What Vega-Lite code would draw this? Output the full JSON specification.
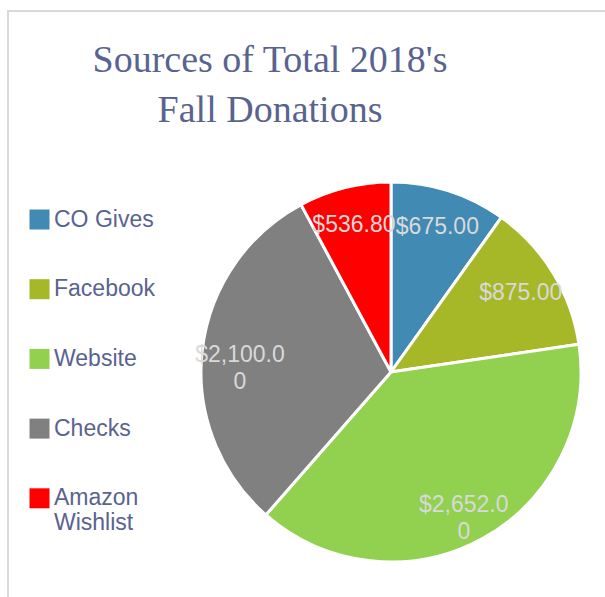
{
  "$schema": "https://vega.github.io/schema/vega-lite/v6.json",
  "autosize": {"type": "none"},
  "width": 766,
  "height": 722,
  "padding": {"left": 8, "top": 11, "right": -169, "bottom": -136},
  "background": "white",
  "title": {
    "text": ["Sources of Total 2018's", "Fall Donations"],
    "orient": "none",
    "font": "Liberation Serif",
    "fontSize": 38,
    "fontWeight": "normal",
    "color": "#59638f",
    "lineHeight": 50,
    "baseline": "alphabetic",
    "anchor": "middle",
    "align": "center",
    "frame": "group",
    "offset": 0,
    "dx": 262,
    "dy": 61
  },
  "data": {
    "values": [
      {"source": "CO Gives", "amount": 675.00, "rank": 1},
      {"source": "Facebook", "amount": 875.00, "rank": 2},
      {"source": "Website", "amount": 2652.00, "rank": 3},
      {"source": "Checks", "amount": 2100.00, "rank": 4},
      {"source": "Amazon Wishlist", "amount": 536.80, "rank": 5}
    ]
  },
  "transform": [
    {"calculate": "format(datum.amount, '$,.2f')", "as": "fmt"},
    {"calculate": "length(datum.fmt) > 8 ? [slice(datum.fmt, 0, 8), slice(datum.fmt, 8)] : datum.fmt", "as": "lbl"}
  ],
  "layer": [
    {
      "data": {"values": [{"frame": "border"}]},
      "mark": {"type": "rect", "fill": "white", "fillOpacity": 0, "stroke": "#d9d9d9", "strokeWidth": 2},
      "encoding": {}
    },
    {
      "mark": {"type": "arc", "outerRadius": 190, "stroke": "white", "strokeWidth": 3},
      "encoding": {
        "theta": {"field": "amount", "type": "quantitative", "stack": true},
        "order": {"field": "rank", "type": "ordinal", "sort": "ascending"},
        "color": {
          "field": "source",
          "type": "nominal",
          "sort": ["CO Gives", "Facebook", "Website", "Checks", "Amazon Wishlist"],
          "scale": {
            "domain": ["CO Gives", "Facebook", "Website", "Checks", "Amazon Wishlist"],
            "range": ["#418ab3", "#a6b727", "#92d050", "#808080", "#ff0000"]
          },
          "legend": {
            "orient": "none",
            "legendX": 20,
            "legendY": 197,
            "direction": "vertical",
            "title": null,
            "padding": 0,
            "symbolType": "square",
            "symbolSize": 400,
            "symbolStrokeWidth": 0,
            "symbolOpacity": 1,
            "rowPadding": 45.7,
            "labelOffset": 3,
            "labelFont": "Liberation Sans",
            "labelFontSize": 23,
            "labelColor": "#59638f",
            "labelLimit": 300,
            "labelBaseline": "middle",
            "labelExpr": "datum.label == 'Amazon Wishlist' ? ['Amazon', 'Wishlist'] : datum.label",
            "encoding": {
              "labels": {
                "update": {
                  "lineHeight": {"value": 27},
                  "dy": {"condition": {"test": "datum.label == 'Amazon Wishlist'", "value": 13}, "value": 0}
                }
              }
            }
          }
        }
      }
    },
    {
      "mark": {
        "type": "text",
        "radius": 152,
        "font": "Liberation Sans",
        "fontSize": 23,
        "fill": "#d9d9d9",
        "align": "center",
        "baseline": "middle",
        "lineHeight": 27
      },
      "encoding": {
        "theta": {"field": "amount", "type": "quantitative", "stack": true},
        "order": {"field": "rank", "type": "ordinal", "sort": "ascending"},
        "text": {"field": "lbl", "type": "nominal"},
        "color": {"value": "#d9d9d9"}
      }
    }
  ]
}
